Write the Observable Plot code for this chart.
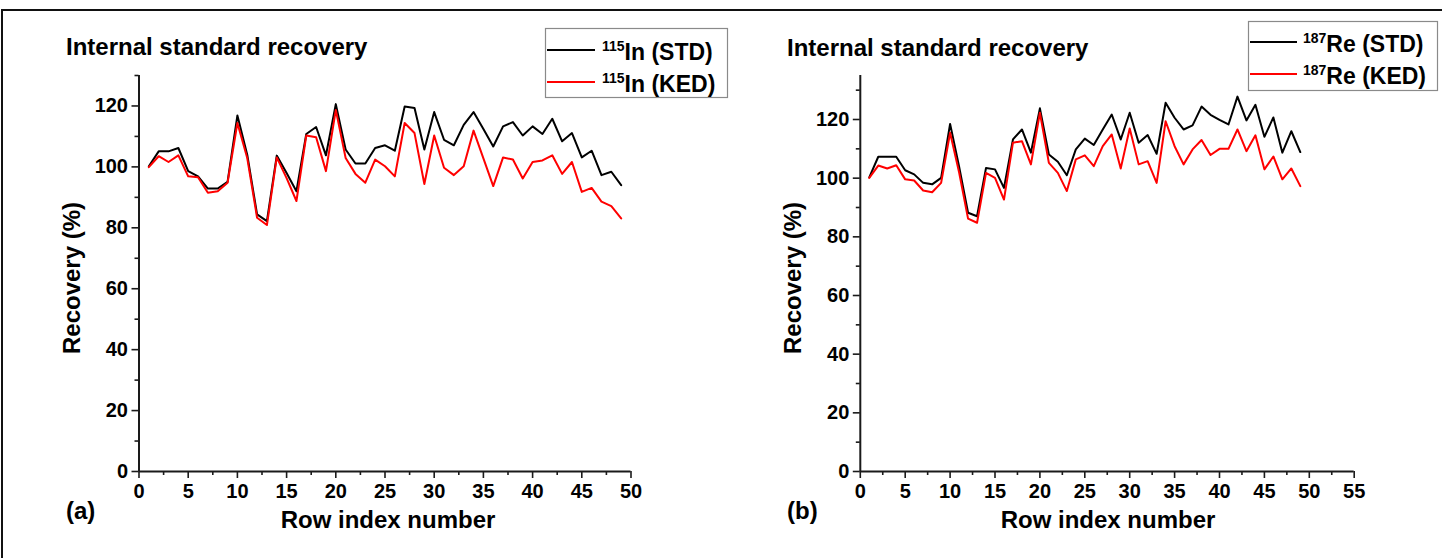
<!DOCTYPE html>
<html>
<head>
<meta charset="utf-8">
<script src="https://cdn.jsdelivr.net/npm/d3@7"></script>
<script src="https://cdn.jsdelivr.net/npm/@observablehq/plot@0.6"></script>
<style>
  html, body { margin: 0; padding: 0; background: #fff; }
  #page { position: relative; width: 1442px; height: 558px; overflow: hidden; background: #fff;
          font-family: "Liberation Sans", Arial, Helvetica, sans-serif; }
  #frame { position: absolute; left: 1px; top: 9px; width: 1446px; height: 560px; border: 2px solid #111; }
  .panel { position: absolute; top: 0; }
  .panel svg { overflow: visible; }
  #notes { position: absolute; left: 0; top: 0; pointer-events: none; }
  #notes text { font-family: "Liberation Sans", Arial, Helvetica, sans-serif; font-weight: bold; fill: #000; }
</style>
</head>
<body>
<div id="page">
  <div id="frame"></div>
  <div id="panelA" class="panel" style="left:0px"></div>
  <div id="panelB" class="panel" style="left:720px"></div>
  <svg id="notes" width="1442" height="558">
    <!-- panel (a) -->
    <text x="66" y="55" font-size="24">Internal standard recovery</text>
    <text x="66" y="519" font-size="24">(a)</text>
    <text x="388" y="528" font-size="24" text-anchor="middle">Row index number</text>
    <text transform="translate(80,278) rotate(-90)" font-size="24" text-anchor="middle">Recovery (%)</text>
    <rect x="545.5" y="28.5" width="182" height="69" fill="#fff" stroke="#8a8a8a" stroke-width="1.2"></rect>
    <line x1="547" x2="595" y1="50" y2="50" stroke="#000" stroke-width="2"></line>
    <line x1="547" x2="595" y1="82" y2="82" stroke="#ff0000" stroke-width="2"></line>
    <text x="602" y="59.5" font-size="23"><tspan font-size="14" dy="-9">115</tspan><tspan dy="9">In (STD)</tspan></text>
    <text x="602" y="91.5" font-size="23"><tspan font-size="14" dy="-9">115</tspan><tspan dy="9">In (KED)</tspan></text>
    <!-- panel (b) -->
    <text x="787" y="56" font-size="24">Internal standard recovery</text>
    <text x="787" y="519" font-size="24">(b)</text>
    <text x="1108" y="528" font-size="24" text-anchor="middle">Row index number</text>
    <text transform="translate(801,278) rotate(-90)" font-size="24" text-anchor="middle">Recovery (%)</text>
    <rect x="1248.5" y="21.5" width="189" height="69" fill="#fff" stroke="#8a8a8a" stroke-width="1.2"></rect>
    <line x1="1250" x2="1297" y1="42" y2="42" stroke="#000" stroke-width="2"></line>
    <line x1="1250" x2="1297" y1="74" y2="74" stroke="#ff0000" stroke-width="2"></line>
    <text x="1303" y="51.5" font-size="23"><tspan font-size="14" dy="-9">187</tspan><tspan dy="9">Re (STD)</tspan></text>
    <text x="1303" y="83.5" font-size="23"><tspan font-size="14" dy="-9">187</tspan><tspan dy="9">Re (KED)</tspan></text>
  </svg>
</div>
<script>
// Row index of each measurement
const rowIndex = [1, 2, 3, 4, 5, 6, 7, 8, 9, 10, 11, 12, 13, 14, 15, 16, 17, 18, 19, 20,
  21, 22, 23, 24, 25, 26, 27, 28, 29, 30, 31, 32, 33, 34, 35, 36, 37, 38, 39, 40,
  41, 42, 43, 44, 45, 46, 47, 48, 49];

// 115In recovery (%), standard mode and KED mode
const inSTD = [100.2, 105.1, 105.1, 106.2, 98.6, 96.9, 92.9, 92.9, 95.1, 116.9,
  104.0, 84.4, 82.2, 103.7, 98.0, 92.0, 110.8, 113.1, 103.8, 120.6,
  105.7, 101.1, 101.1, 106.2, 107.1, 105.3, 119.8, 119.3, 105.7, 118.0,
  108.9, 107.1, 113.8, 118.0, 112.4, 106.7, 113.3, 114.7, 110.3, 113.3,
  110.8, 115.8, 108.4, 111.1, 103.1, 105.3, 97.3, 98.4, 94.0];
const inKED = [99.9, 103.5, 101.6, 103.8, 96.9, 96.6, 91.5, 92.0, 94.8, 114.4,
  102.9, 83.3, 80.9, 103.1, 96.3, 88.8, 110.3, 109.7, 98.6, 118.7,
  102.9, 97.7, 94.8, 102.4, 100.2, 96.9, 114.4, 111.1, 94.4, 110.3,
  99.7, 97.3, 100.2, 111.9, 102.8, 93.7, 103.1, 102.4, 96.2, 101.6,
  102.1, 103.8, 97.7, 101.6, 91.8, 93.1, 88.6, 87.1, 83.1];

// 187Re recovery (%), standard mode and KED mode
const reSTD = [100.3, 107.3, 107.3, 107.3, 102.7, 101.3, 98.4, 97.9, 100.1, 118.5,
  104.0, 88.2, 87.0, 103.5, 103.0, 96.7, 113.2, 116.6, 108.7, 123.8,
  108.1, 105.6, 101.0, 109.8, 113.5, 111.3, 116.6, 121.7, 113.2, 122.3,
  112.1, 114.7, 108.3, 125.7, 120.6, 116.6, 118.0, 124.4, 121.6, 119.9,
  118.3, 127.8, 119.7, 125.0, 114.1, 120.7, 108.7, 116.0, 108.9];
const reKED = [100.1, 104.3, 103.3, 104.4, 99.6, 99.2, 95.8, 95.2, 98.4, 115.5,
  102.0, 86.2, 84.8, 101.8, 100.1, 92.7, 112.1, 112.6, 104.7, 122.3,
  105.2, 101.8, 95.6, 106.4, 107.8, 104.1, 110.9, 114.9, 103.3, 116.9,
  104.7, 105.8, 98.4, 119.4, 110.9, 104.7, 109.8, 113.0, 107.9, 110.0,
  110.0, 116.6, 109.2, 114.6, 103.0, 107.4, 99.6, 103.3, 97.3];

// Axis ticks
const xTicksA = [0, 5, 10, 15, 20, 25, 30, 35, 40, 45, 50];
const xTicksB = [0, 5, 10, 15, 20, 25, 30, 35, 40, 45, 50, 55];
const yTicksA = [0, 20, 40, 60, 80, 100, 120];
const yTicksB = [0, 20, 40, 60, 80, 100, 120];
const yMinorA = [10, 30, 50, 70, 90, 110, 130];
const yMinorB = [10, 30, 50, 70, 90, 110, 130];

const colors = {STD: "#000000", KED: "#ff0000"};

function toRows(std, ked) {
  return [
    ...rowIndex.map((r, i) => ({row: r, value: std[i], mode: "STD"})),
    ...rowIndex.map((r, i) => ({row: r, value: ked[i], mode: "KED"}))
  ];
}

function panel({width, marginLeft, marginRight, xMax, yMax, xTicks, yTicks, yMinor, rows}) {
  const xMinor = d3.range(2.5, xMax, 5);
  const axisColor = "#1a1a1a";
  return Plot.plot({
    width, height: 558,
    marginLeft, marginRight, marginTop: 75, marginBottom: 87,
    style: {
      fontFamily: "'Liberation Sans', Arial, Helvetica, sans-serif",
      fontSize: "20px", fontWeight: "bold", color: "#000", background: "transparent", overflow: "visible"
    },
    x: {domain: [0, xMax], label: null},
    y: {domain: [0, yMax], label: null},
    marks: [
      Plot.axisY(yMinor, {tickSize: 4, text: null, label: null, stroke: axisColor, strokeWidth: 1.6}),
      Plot.axisY(yTicks, {tickSize: 7, tickPadding: 4, stroke: axisColor, strokeWidth: 1.6, label: null,
        fill: "#000", fontSize: 20, fontWeight: "bold"}),
      Plot.axisX(xMinor, {tickSize: 4, text: null, label: null, stroke: axisColor, strokeWidth: 1.6}),
      Plot.axisX(xTicks, {tickSize: 7, tickPadding: 5, stroke: axisColor, strokeWidth: 1.6, label: null,
        fill: "#000", fontSize: 20, fontWeight: "bold"}),
      Plot.ruleX([0], {y1: 0, y2: yMax, stroke: axisColor, strokeWidth: 2}),
      Plot.ruleY([0], {x1: 0, x2: xMax, stroke: axisColor, strokeWidth: 2}),
      Plot.line(rows, {x: "row", y: "value", z: "mode", stroke: d => colors[d.mode], strokeWidth: 2})
    ]
  });
}

document.getElementById("panelA").append(panel({
  width: 720, marginLeft: 138.5, marginRight: 89.5, xMax: 50, yMax: 130,
  xTicks: xTicksA, yTicks: yTicksA, yMinor: yMinorA, rows: toRows(inSTD, inKED)
}));
document.getElementById("panelB").append(panel({
  width: 722, marginLeft: 139.8, marginRight: 88.3, xMax: 55, yMax: 135,
  xTicks: xTicksB, yTicks: yTicksB, yMinor: yMinorB, rows: toRows(reSTD, reKED)
}));
</script>
</body>
</html>
